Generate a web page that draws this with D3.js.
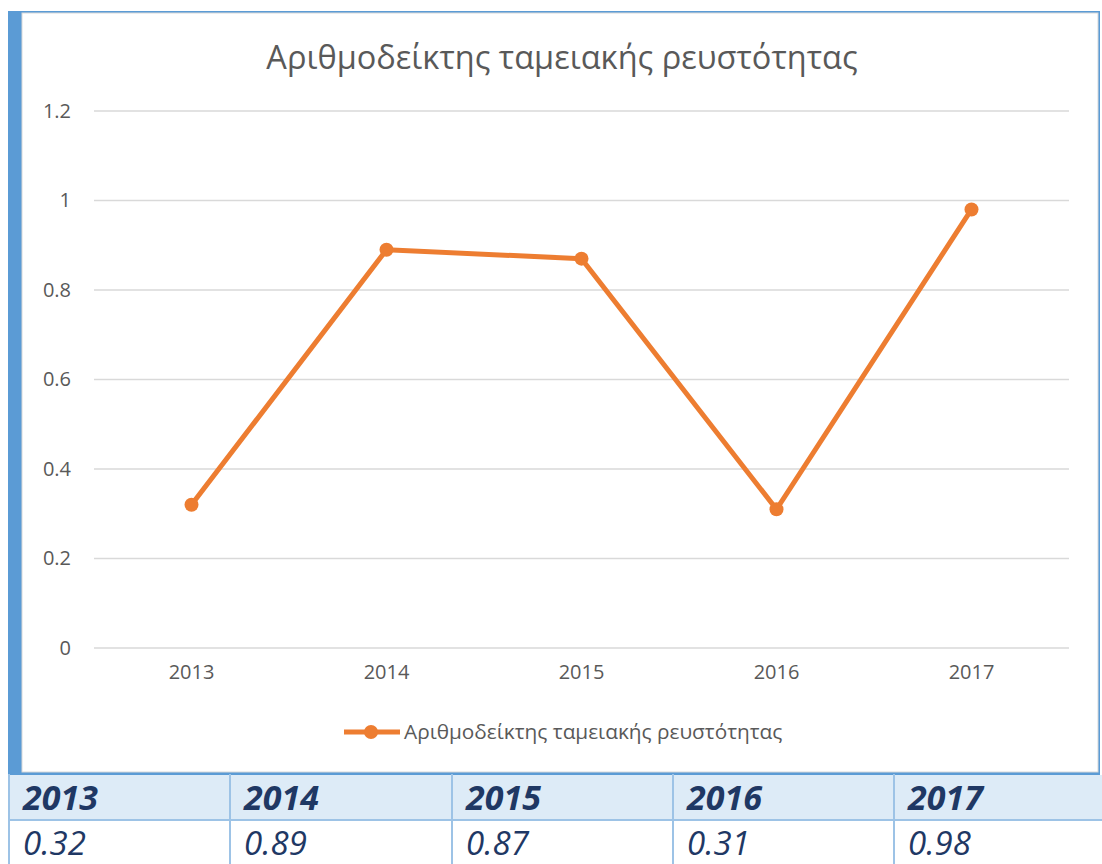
<!DOCTYPE html>
<html>
<head>
<meta charset="utf-8">
<script src="https://cdn.jsdelivr.net/npm/d3@7"></script>
<style>
  body { margin: 0; background: #fff; }
  svg { display: block; }
</style>
</head>
<body>
<div id="chartDIV"></div>
<script>
var years = ["2013", "2014", "2015", "2016", "2017"];
var values = [0.32, 0.89, 0.87, 0.31, 0.98];
var yTicks = [0, 0.2, 0.4, 0.6, 0.8, 1, 1.2];
var seriesName = "Αριθμοδείκτης ταμειακής ρευστότητας";

var W = 1102, H = 864;
var font = "'Open Sans', 'DejaVu Sans', sans-serif";
var blue = "#5b9bd5";

var svg = d3.select("#chartDIV").append("svg")
  .attr("width", W).attr("height", H);

// frame of the chart object
svg.append("rect").attr("x", 8).attr("y", 11).attr("width", 1092).attr("height", 764).attr("fill", blue);
svg.append("rect").attr("x", 22).attr("y", 13).attr("width", 1076).attr("height", 759)
  .attr("fill", "#fff").attr("stroke", "#d9d9d9").attr("stroke-width", 1);

var x = d3.scaleBand().domain(years).range([94, 1069]);
var y = d3.scaleLinear().domain([0, 1.2]).range([648, 111]);

// gridlines
svg.append("g").selectAll("line")
  .data(yTicks)
  .enter()
  .append("line")
  .attr("x1", 94).attr("x2", 1069)
  .attr("y1", function(d) { return y(d) }).attr("y2", function(d) { return y(d) })
  .attr("stroke", "#d9d9d9").attr("stroke-width", 1.5);

// y axis labels
var yAxis = svg.append("g")
  .attr("transform", "translate(71,0)")
  .call(d3.axisLeft(y).tickValues(yTicks).tickSize(0).tickPadding(0).tickFormat(function(d) { return String(d) }));
yAxis.select(".domain").remove();
yAxis.selectAll("text")
  .style("font-family", font).style("font-size", "20px").attr("fill", "#595959");

// x axis labels
var xAxis = svg.append("g")
  .attr("transform", "translate(0,665)")
  .call(d3.axisBottom(x).tickSize(0).tickPadding(0));
xAxis.select(".domain").remove();
xAxis.selectAll("text")
  .style("font-family", font).style("font-size", "20px").attr("fill", "#595959");

// title
svg.append("text")
  .attr("x", 562).attr("y", 69)
  .attr("text-anchor", "middle")
  .style("font-family", font).style("font-size", "32.5px")
  .attr("fill", "#595959")
  .text(seriesName);

// series
var line = d3.line()
  .x(function(d, i) { return x(years[i]) + x.bandwidth() / 2 })
  .y(function(d) { return y(d) });

svg.append("path")
  .datum(values)
  .attr("d", line)
  .attr("fill", "none")
  .attr("stroke", "#ed7d31")
  .attr("stroke-width", 5)
  .attr("stroke-linejoin", "round");

svg.append("g").selectAll("circle")
  .data(values)
  .enter()
  .append("circle")
  .attr("cx", function(d, i) { return x(years[i]) + x.bandwidth() / 2 })
  .attr("cy", function(d) { return y(d) })
  .attr("r", 7)
  .attr("fill", "#ed7d31");

// legend
svg.append("line")
  .attr("x1", 344).attr("x2", 400).attr("y1", 732).attr("y2", 732)
  .attr("stroke", "#ed7d31").attr("stroke-width", 5);
svg.append("circle").attr("cx", 371).attr("cy", 732).attr("r", 7).attr("fill", "#ed7d31");
svg.append("text")
  .attr("x", 404).attr("y", 739)
  .style("font-family", font).style("font-size", "20.8px")
  .attr("fill", "#595959")
  .text(seriesName);

// table below
var colX = [9, 230, 452, 673, 894, 1116];
var table = svg.append("g");
table.append("rect").attr("x", 9).attr("y", 775).attr("width", W - 9).attr("height", 45).attr("fill", "#ddebf7");
table.append("line").attr("x1", 9).attr("x2", W).attr("y1", 820).attr("y2", 820)
  .attr("stroke", "#9dc3e6").attr("stroke-width", 2);
table.selectAll("line.col")
  .data(colX.slice(0, 5))
  .enter()
  .append("line")
  .attr("class", "col")
  .attr("x1", function(d) { return d }).attr("x2", function(d) { return d })
  .attr("y1", 774).attr("y2", H)
  .attr("stroke", "#9dc3e6").attr("stroke-width", 2);
table.selectAll("text.year")
  .data(years)
  .enter()
  .append("text")
  .attr("class", "year")
  .attr("x", function(d, i) { return colX[i] + 14 })
  .attr("y", 810)
  .style("font-family", font).style("font-size", "34px")
  .style("font-weight", "bold").style("font-style", "italic")
  .attr("fill", "#1f3864")
  .text(function(d) { return d });
table.selectAll("text.val")
  .data(values)
  .enter()
  .append("text")
  .attr("class", "val")
  .attr("x", function(d, i) { return colX[i] + 14 })
  .attr("y", 855)
  .style("font-family", font).style("font-size", "33px")
  .style("font-style", "italic")
  .attr("fill", "#1f3864")
  .text(function(d) { return d.toFixed(2) });
</script>
</body>
</html>
